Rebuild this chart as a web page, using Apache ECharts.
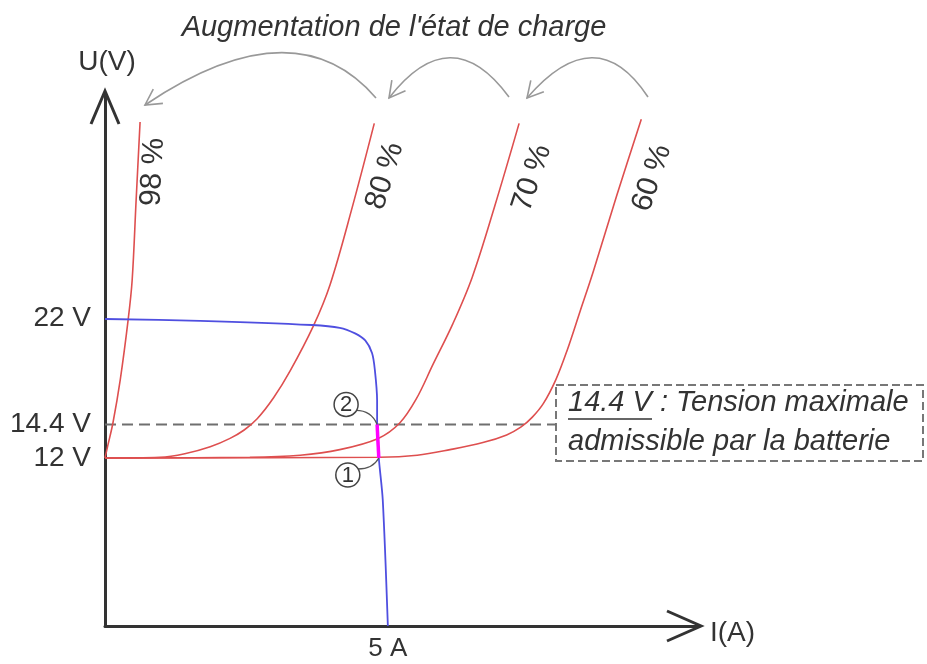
<!DOCTYPE html>
<html>
<head>
<meta charset="utf-8">
<script src="https://cdn.jsdelivr.net/npm/echarts@6/dist/echarts.min.js"></script>
<style>
html,body{margin:0;padding:0;background:#fff;}
#chart{width:927px;height:664px;}
</style>
</head>
<body>
<div id="chart"></div>
<script>
// courbes U(I) de la batterie selon l'état de charge
const soc98 = [[0,12],[0.05,12.9],[0.14,14.5],[0.27,17.6],[0.41,21.9],[0.48,24.7],[0.55,30.4],[0.62,36]];
const soc80 = [[0,12],[0.97,12.05],[1.41,12.3],[1.86,12.8],[2.21,13.4],[2.46,14],[2.69,14.8],[2.98,16.3],[3.27,18.2],[3.68,21.4],[3.98,24.4],[4.37,29.9],[4.76,35.9]];
const soc70 = [[0,12],[2.56,12.05],[3.45,12.2],[4.15,12.6],[4.83,13.4],[5.21,14.5],[5.5,16.2],[5.8,18.7],[6.15,21.6],[6.49,24.9],[6.89,30],[7.32,35.9]];
const soc60 = [[0,12],[4.86,12.05],[5.52,12.2],[6.1,12.6],[6.68,13.1],[7.1,13.65],[7.35,14.2],[7.55,14.9],[7.75,15.9],[7.97,17.6],[8.17,19.7],[8.4,22.5],[8.63,25.3],[9.05,30.8],[9.48,36.2]];
// caractéristique du panneau
const panel = [[0,21.93],[1.68,21.8],[3.66,21.5],[4.15,21.3],[4.42,20.9],[4.6,20.4],[4.72,19.5],[4.77,18.3],[4.81,16.1],[4.81,14.4],[4.84,12],[4.91,9],[5,0]];
// points de fonctionnement 2 -> 1
const working = [[4.81,14.4],[4.84,12]];
const uTicks = [12, 14.4, 22];
const iTicks = [5];
const uLimit = 14.4;
const limitLine = [[0, uLimit], [7.97, uLimit]];
const socNames = ['98 %', '80 %', '70 %', '60 %'];

const FONT = '"Liberation Sans", Arial, sans-serif';
const red = '#de4f4f';

function redLine(name, data) {
    return {
        name: name, type: 'line', data: data, smooth: 0.35, showSymbol: false,
        lineStyle: {color: red, width: 1.6}, silent: true, z: 3
    };
}

// flèche courbe grise + pointe
function arc(x1, y1, cx, cy, x2, y2) {
    let dx = cx - x2, dy = cy - y2;
    let len = Math.sqrt(dx*dx + dy*dy);
    dx /= len; dy /= len;
    let a = 0.5, L = 18;
    let p1 = [x2 + L*(dx*Math.cos(a) - dy*Math.sin(a)), y2 + L*(dx*Math.sin(a) + dy*Math.cos(a))];
    let p2 = [x2 + L*(dx*Math.cos(-a) - dy*Math.sin(-a)), y2 + L*(dx*Math.sin(-a) + dy*Math.cos(-a))];
    return [
        {type: 'bezierCurve', shape: {x1: x1, y1: y1, cpx1: cx, cpy1: cy, x2: x2, y2: y2},
         style: {stroke: '#999', lineWidth: 1.6, fill: null}},
        {type: 'polyline', shape: {points: [p1, [x2, y2], p2]},
         style: {stroke: '#999', lineWidth: 1.6, fill: null}}
    ];
}

function txt(x, y, text, size, opts) {
    opts = opts || {};
    return {
        type: 'text', x: x, y: y, rotation: opts.rotation || 0,
        style: {
            text: text, fill: opts.fill || '#333',
            font: (opts.italic ? 'italic ' : '') + size + 'px ' + FONT,
            align: opts.align || 'center', verticalAlign: 'middle'
        }
    };
}

const chart = echarts.init(document.getElementById('chart'));
chart.setOption({
    animation: false,
    grid: {left: 105, top: 94, width: 594, height: 532},
    xAxis: {
        type: 'value', min: 0, max: 10.5,
        axisLine: {show: true, lineStyle: {color: '#333', width: 3}},
        axisTick: {show: false},
        splitLine: {show: false},
        axisLabel: {
            customValues: iTicks, margin: 10,
            color: '#333', fontSize: 26, fontFamily: FONT,
            formatter: v => v + ' A'
        }
    },
    yAxis: {
        type: 'value', min: 0, max: 38,
        axisLine: {show: true, lineStyle: {color: '#333', width: 3}},
        axisTick: {show: false},
        splitLine: {show: false},
        axisLabel: {
            customValues: uTicks, margin: 14,
            color: '#333', fontSize: 28, fontFamily: FONT,
            formatter: v => v + ' V'
        }
    },
    series: [
        {
            name: 'limite', type: 'line', data: limitLine, showSymbol: false, silent: true,
            lineStyle: {color: '#6f6f6f', width: 2, type: [11, 6]}, z: 2
        },
        redLine(socNames[0], soc98),
        redLine(socNames[1], soc80),
        redLine(socNames[2], soc70),
        redLine(socNames[3], soc60),
        {
            name: 'panneau', type: 'line', data: panel, smooth: 0.3, showSymbol: false, silent: true,
            lineStyle: {color: '#4f4fe0', width: 1.8}, z: 4
        },
        {
            name: 'fonctionnement', type: 'line', data: working, showSymbol: false, silent: true,
            lineStyle: {color: '#ff00ff', width: 3.5}, z: 5
        }
    ]
});

const p2 = chart.convertToPixel({gridIndex: 0}, working[0]);
const p1 = chart.convertToPixel({gridIndex: 0}, working[1]);
const c2 = [p2[0] - 31, p2[1] - 20];
const c1 = [p1[0] - 31, p1[1] + 17];

let g = [];
// axes : pointes ouvertes
g.push({type: 'polyline', shape: {points: [[667, 611], [701, 626], [667, 641]]},
        style: {stroke: '#333', lineWidth: 3, fill: null}});
g.push({type: 'polyline', shape: {points: [[91, 124], [105, 91], [119, 124]]},
        style: {stroke: '#333', lineWidth: 3, fill: null}});
g.push(txt(107, 62, 'U(V)', 28));
g.push(txt(710, 633, 'I(A)', 28, {align: 'left'}));
// titre + flèches
g.push(txt(394, 28, "Augmentation de l'état de charge", 29, {italic: true}));
g = g.concat(arc(376, 98, 295, 4, 145, 105));
g = g.concat(arc(509, 97, 451, 18, 389, 98));
g = g.concat(arc(648, 97, 596, 18, 527, 98));
// étiquettes des courbes
g.push(txt(153, 172, socNames[0], 30, {rotation: 1.52}));
g.push(txt(385, 176, socNames[1], 30, {rotation: 1.27}));
g.push(txt(532, 178, socNames[2], 30, {rotation: 1.25}));
g.push(txt(652, 178, socNames[3], 30, {rotation: 1.25}));
// cadre 14.4 V
g.push({type: 'rect', shape: {x: 556, y: 385, width: 367, height: 76},
        style: {stroke: '#777', lineWidth: 2, lineDash: [8, 4], fill: null}});
g.push(txt(568, 403, '14.4 V : Tension maximale', 29, {italic: true, align: 'left'}));
g.push(txt(568, 442, 'admissible par la batterie', 29, {italic: true, align: 'left'}));
g.push({type: 'line', shape: {x1: 568, y1: 419, x2: 652, y2: 419}, style: {stroke: '#333', lineWidth: 1.5}});
// repères 1 et 2
[[c2, p2, '2'], [c1, p1, '1']].forEach(function (m) {
    let c = m[0], p = m[1];
    g.push({type: 'circle', shape: {cx: c[0], cy: c[1], r: 12}, style: {stroke: '#444', lineWidth: 1.5, fill: '#fff'}, z: 10});
    g.push(Object.assign(txt(c[0], c[1] + 1, m[2], 22), {z: 11}));
    let sx = c[0] + 10, sy = c[1] + (p[1] > c[1] ? 6 : -6);
    g.push({type: 'bezierCurve', shape: {x1: sx, y1: sy, cpx1: p[0] - 6, cpy1: sy, x2: p[0], y2: p[1]},
            style: {stroke: '#555', lineWidth: 1.3, fill: null}, z: 9});
});
chart.setOption({graphic: g});
</script>
</body>
</html>
